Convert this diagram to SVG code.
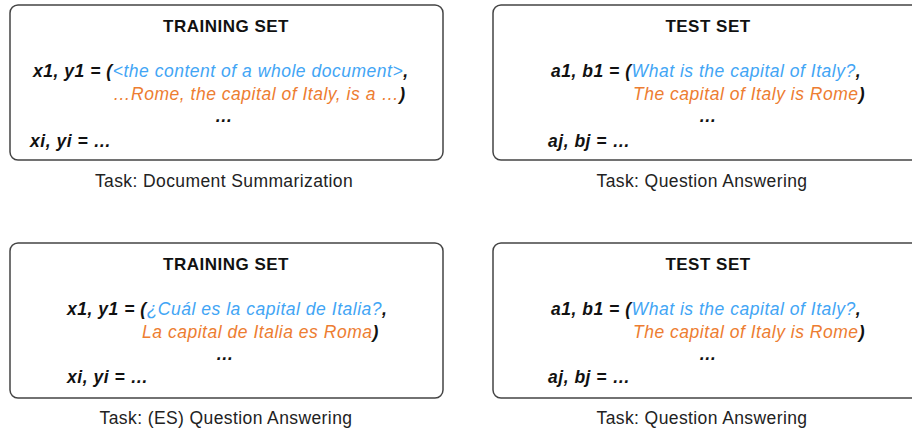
<svg xmlns="http://www.w3.org/2000/svg" width="912" height="431" viewBox="0 0 912 431">
<style>
.box{fill:#fff;stroke:#444;stroke-width:1.5}
.t{font-family:"Liberation Sans",Arial,sans-serif;font-size:17px;font-weight:bold;fill:#111;text-anchor:middle;letter-spacing:0.5px}
.l{font-family:"Liberation Sans",Arial,sans-serif;font-size:17.5px;font-style:italic;font-weight:bold;fill:#111;letter-spacing:0.52px}
.b{fill:#42a5f5;font-weight:normal}
.o{fill:#ed7d31;font-weight:normal}
.c{font-family:"Liberation Sans",Arial,sans-serif;font-size:17.5px;fill:#222;text-anchor:middle;letter-spacing:0.4px}
</style>
<rect width="912" height="431" fill="#fff"/>
<g id="train1">
<rect class="box" x="10" y="5" width="433" height="155" rx="8"/>
<text class="t" x="226" y="32">TRAINING SET</text>
<text class="l" x="33" y="77">x1, y1 = (<tspan class="b">&lt;the content of a whole document&gt;</tspan>,</text>
<text class="l" x="113" y="100"><tspan class="o">…Rome, the capital of Italy, is a …</tspan>)</text>
<text class="l" x="224" y="122" text-anchor="middle">…</text>
<text class="l" x="30" y="147">xi, yi = …</text>
<text class="c" x="224" y="187">Task: Document Summarization</text>
</g>
<g id="test1">
<rect class="box" x="493" y="5" width="440" height="155" rx="8"/>
<text class="t" x="708" y="32">TEST SET</text>
<text class="l" x="551" y="77">a1, b1 = (<tspan class="b">What is the capital of Italy?</tspan>,</text>
<text class="l" x="633" y="100"><tspan class="o">The capital of Italy is Rome</tspan>)</text>
<text class="l" x="708" y="122" text-anchor="middle">…</text>
<text class="l" x="548" y="147">aj, bj = …</text>
<text class="c" x="702" y="187">Task: Question Answering</text>
</g>
<g id="train2">
<rect class="box" x="10" y="243" width="433" height="155" rx="8"/>
<text class="t" x="226" y="270">TRAINING SET</text>
<text class="l" x="67" y="315">x1, y1 = (<tspan class="b">¿Cuál es la capital de Italia?</tspan>,</text>
<text class="l" x="142" y="338"><tspan class="o">La capital de Italia es Roma</tspan>)</text>
<text class="l" x="225" y="360" text-anchor="middle">…</text>
<text class="l" x="67" y="383">xi, yi = …</text>
<text class="c" x="226" y="424">Task: (ES) Question Answering</text>
</g>
<g id="test2">
<rect class="box" x="493" y="243" width="440" height="155" rx="8"/>
<text class="t" x="708" y="270">TEST SET</text>
<text class="l" x="551" y="315">a1, b1 = (<tspan class="b">What is the capital of Italy?</tspan>,</text>
<text class="l" x="633" y="338"><tspan class="o">The capital of Italy is Rome</tspan>)</text>
<text class="l" x="708" y="360" text-anchor="middle">…</text>
<text class="l" x="548" y="383">aj, bj = …</text>
<text class="c" x="702" y="424">Task: Question Answering</text>
</g>
<g id="connectors"></g>
</svg>
